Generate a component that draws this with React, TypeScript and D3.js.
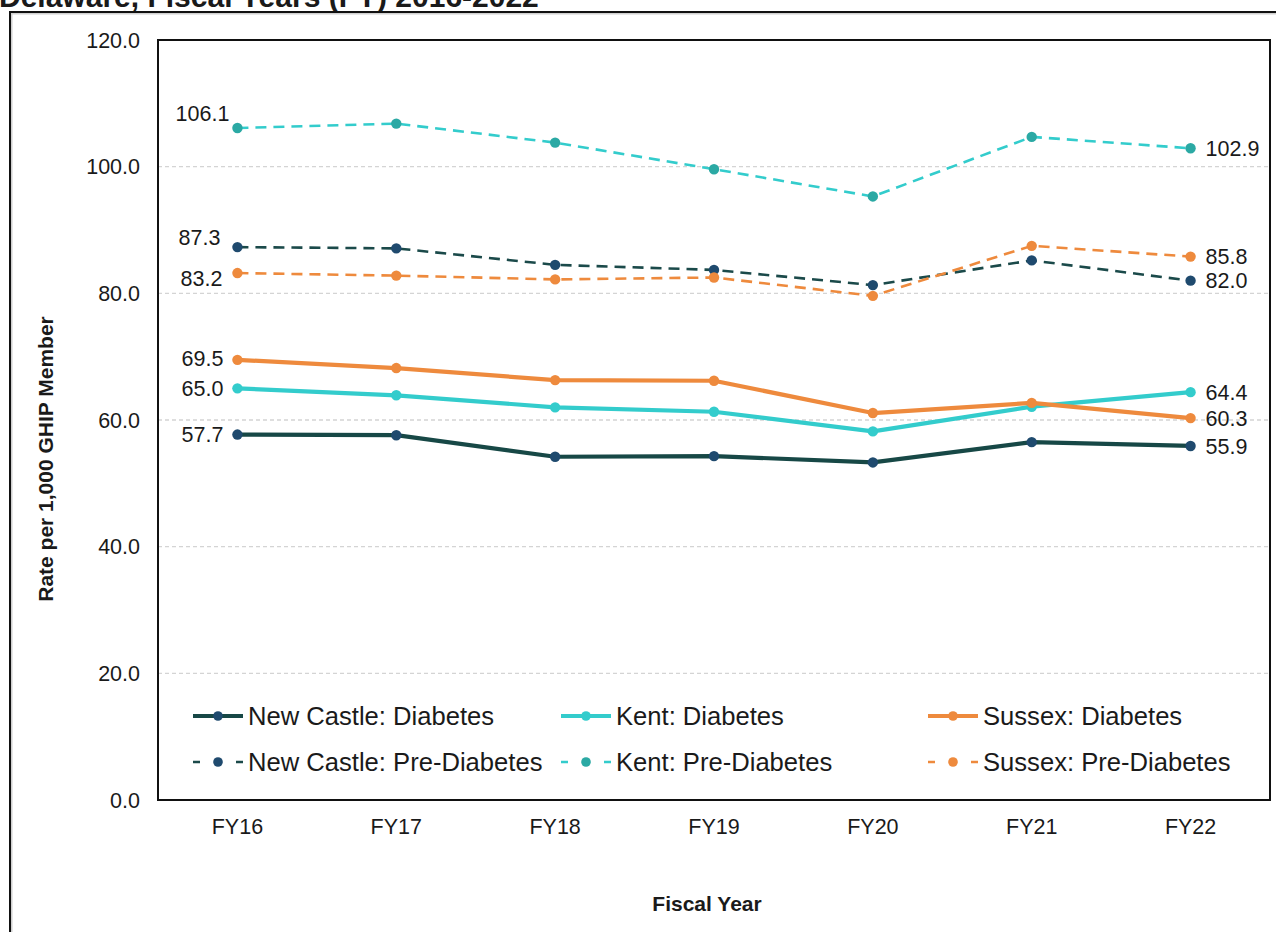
import React from "react";
import * as d3 from "d3";

const years = ["FY16", "FY17", "FY18", "FY19", "FY20", "FY21", "FY22"];
const newCastleDiabetes = [57.7, 57.6, 54.2, 54.3, 53.3, 56.5, 55.9];
const kentDiabetes = [65.0, 63.9, 62.0, 61.3, 58.2, 62.1, 64.4];
const sussexDiabetes = [69.5, 68.2, 66.3, 66.2, 61.1, 62.7, 60.3];
const newCastlePre = [87.3, 87.1, 84.5, 83.7, 81.3, 85.2, 82.0];
const kentPre = [106.1, 106.8, 103.8, 99.6, 95.3, 104.7, 102.9];
const sussexPre = [83.2, 82.8, 82.2, 82.5, 79.6, 87.5, 85.8];
const yTicks = [0, 20, 40, 60, 80, 100, 120];

const seriesNames = [
  "New Castle: Diabetes",
  "Kent: Diabetes",
  "Sussex: Diabetes",
  "New Castle: Pre-Diabetes",
  "Kent: Pre-Diabetes",
  "Sussex: Pre-Diabetes",
];
const seriesValues = [newCastleDiabetes, kentDiabetes, sussexDiabetes, newCastlePre, kentPre, sussexPre];

// styles (not data)
const lineColors = ["#174846", "#33CCCC", "#EE8A3D", "#1B4A4A", "#33CCCC", "#EE8A3D"];
const markerColors = ["#1F4A6E", "#33CCCC", "#EE8A3D", "#1F4A6E", "#2BA9A4", "#EE8A3D"];
const dashed = [false, false, false, true, true, true];
// label offsets for first (left) labels: [dx from point (end anchor), dy]
const firstLabelOffsets: [number, number][] = [
  [-14, 0],
  [-14, 0],
  [-14, -2],
  [-17, -10],
  [-8, -15],
  [-15, 5],
];

const W = 1276;
const H = 932;
const plotL = 158;
const plotR = 1270;
const plotT = 40;
const plotB = 800;
const FONT = "'Liberation Sans', Arial, Helvetica, sans-serif";
const TXT = "#1a1a1a";

export default function App() {
  const x = d3.scalePoint<string>().domain(years).range([plotL, plotR]).padding(0.5);
  const y = d3.scaleLinear().domain([0, 120]).range([plotB, plotT]);
  const fmt = d3.format(".1f");
  const lineGen = d3
    .line<number>()
    .x((_, i) => x(years[i]) as number)
    .y((d) => y(d));

  const legendCols = [193, 561, 928];
  const legendRows = [716, 762];

  return (
    <svg
      width={W}
      height={H}
      style={{ position: "absolute", left: 0, top: 0, background: "#fff" }}
      fontFamily={FONT}
    >
      <rect x={0} y={0} width={W} height={H} fill="#fff" />
      {/* cut-off title */}
      <text x={-1} y={7} fontSize={30} fontWeight="bold" fill={TXT}>
        Delaware, Fiscal Years (FY) 2016-2022
      </text>
      {/* outer frame */}
      <line x1={10} y1={13.5} x2={W} y2={13.5} stroke="#d0d0d0" strokeWidth={2} />
      <line x1={11.5} y1={12} x2={11.5} y2={H} stroke="#d0d0d0" strokeWidth={2} />
      <line x1={10} y1={12} x2={W} y2={12} stroke="#111" strokeWidth={2} />
      <line x1={10} y1={11} x2={10} y2={H} stroke="#111" strokeWidth={2} />

      {/* gridlines */}
      {yTicks
        .filter((t) => t > 0 && t < 120)
        .map((t) => (
          <line
            key={"g" + t}
            x1={plotL}
            x2={plotR}
            y1={y(t)}
            y2={y(t)}
            stroke="#d4d4d4"
            strokeWidth={1.3}
            strokeDasharray="4,3"
          />
        ))}

      {/* y tick labels */}
      {yTicks.map((t) => (
        <text
          key={"yt" + t}
          x={140}
          y={y(t)}
          dy="0.36em"
          textAnchor="end"
          fontSize={21.5}
          fill={TXT}
        >
          {fmt(t)}
        </text>
      ))}

      {/* x tick labels */}
      {years.map((yr) => (
        <text
          key={"xt" + yr}
          x={x(yr) as number}
          y={826}
          dy="0.36em"
          textAnchor="middle"
          fontSize={21.5}
          fill={TXT}
        >
          {yr}
        </text>
      ))}

      {/* axis titles */}
      <text x={707} y={903} dy="0.36em" textAnchor="middle" fontSize={21} fontWeight="bold" fill={TXT}>
        Fiscal Year
      </text>
      <text
        transform={`translate(45, 459) rotate(-90)`}
        dy="0.36em"
        textAnchor="middle"
        fontSize={21}
        fontWeight="bold"
        fill={TXT}
      >
        Rate per 1,000 GHIP Member
      </text>

      {/* series */}
      {seriesValues.map((vals, si) => (
        <g key={"s" + si}>
          <path
            d={lineGen(vals) as string}
            fill="none"
            stroke={lineColors[si]}
            strokeWidth={dashed[si] ? 2.6 : 4.2}
            strokeDasharray={dashed[si] ? "11,7" : undefined}
            strokeLinejoin="round"
          />
          {vals.map((v, i) => (
            <circle
              key={i}
              cx={x(years[i]) as number}
              cy={y(v)}
              r={5.2}
              fill={markerColors[si]}
            />
          ))}
        </g>
      ))}

      {/* data labels */}
      {seriesValues.map((vals, si) => {
        const first = vals[0];
        const last = vals[vals.length - 1];
        const off = firstLabelOffsets[si];
        return (
          <g key={"l" + si} fontSize={21.5} fill={TXT}>
            <text
              x={(x(years[0]) as number) + off[0]}
              y={y(first) + off[1]}
              dy="0.36em"
              textAnchor="end"
            >
              {fmt(first)}
            </text>
            <text
              x={(x(years[years.length - 1]) as number) + 15}
              y={y(last)}
              dy="0.36em"
              textAnchor="start"
            >
              {fmt(last)}
            </text>
          </g>
        );
      })}

      {/* legend */}
      {seriesNames.map((name, si) => {
        const col = si % 3;
        const row = Math.floor(si / 3);
        const lx = legendCols[col];
        const ly = legendRows[row];
        return (
          <g key={"lg" + si}>
            <line
              x1={lx}
              x2={lx + 50}
              y1={ly}
              y2={ly}
              stroke={lineColors[si]}
              strokeWidth={dashed[si] ? 2.6 : 4.2}
              strokeDasharray={dashed[si] ? "7,36" : undefined}
            />
            <circle cx={lx + 25} cy={ly} r={4.8} fill={markerColors[si]} />
            <text x={lx + 55} y={ly} dy="0.36em" fontSize={25.6} fill={TXT}>
              {name}
            </text>
          </g>
        );
      })}

      {/* plot frame */}
      <rect
        x={plotL}
        y={plotT}
        width={plotR - plotL}
        height={plotB - plotT}
        fill="none"
        stroke="#111"
        strokeWidth={2}
      />
    </svg>
  );
}
